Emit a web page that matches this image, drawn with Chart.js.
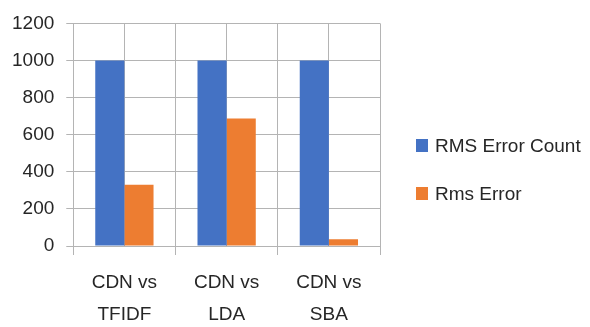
<!DOCTYPE html>
<html><head><meta charset="utf-8">
<script src="https://cdn.jsdelivr.net/npm/chart.js@4/dist/chart.umd.min.js"></script>
<style>html,body{margin:0;padding:0;background:#fff}#wrap{width:590px;height:327px}</style>
</head><body><div id="wrap"><canvas id="c"></canvas></div>
<script>
const categories = [["CDN vs","TFIDF"],["CDN vs","LDA"],["CDN vs","SBA"]];
const seriesNames = ["RMS Error Count","Rms Error"];
const rmsErrorCount = [1000,1000,1000];
const rmsError = [330,687,36];
const yTicks = [0,200,400,600,800,1000,1200];

const gridColor = "#b4b4b4";
const textColor = "#262626";
const fontFamily = "'Liberation Sans', Arial, sans-serif";
const font = {family:fontFamily, size:19};

const sideLegend = {
  id:'sideLegend',
  afterDraw(chart){
    const ctx = chart.ctx;
    const x0 = chart.chartArea.right + 36;
    const yMid = chart.height/2 + 6;
    const gap = 48;
    const n = chart.data.datasets.length;
    ctx.save();
    ctx.font = font.size + "px " + fontFamily;
    ctx.textBaseline = 'middle';
    ctx.textAlign = 'left';
    chart.data.datasets.forEach((ds,i)=>{
      const y = yMid + (i-(n-1)/2)*gap;
      ctx.fillStyle = ds.backgroundColor;
      ctx.fillRect(x0, y-6.5, 12, 13);
      ctx.fillStyle = textColor;
      ctx.fillText(ds.label, x0+19, y+1);
    });
    ctx.restore();
  }
};

new Chart(document.getElementById('c'), {
  type:'bar',
  data:{
    labels:categories,
    datasets:[
      {label:seriesNames[0], data:rmsErrorCount, backgroundColor:"#4472C4", categoryPercentage:0.57, barPercentage:1},
      {label:seriesNames[1], data:rmsError, backgroundColor:"#ED7D31", categoryPercentage:0.57, barPercentage:1}
    ]
  },
  plugins:[sideLegend],
  options:{
    responsive:true, maintainAspectRatio:false, animation:false,
    layout:{padding:{top:12,left:0,right:210,bottom:0}},
    plugins:{
      tooltip:{enabled:false},
      legend:{display:false}
    },
    scales:{
      x:{type:'category', offset:true,
        afterFit:(s)=>{ s.height = 81; },
        grid:{offset:true, color:gridColor, tickLength:9, lineWidth:1},
        border:{display:false},
        ticks:{color:textColor, font:{family:fontFamily, size:19, lineHeight:1.68}, padding:12, maxRotation:0}
      },
      x2:{type:'category', position:'bottom', offset:true,
        grid:{offset:false, color:gridColor, drawTicks:false},
        border:{display:false},
        ticks:{display:false}
      },
      y:{min:0, max:1200,
        afterBuildTicks:(s)=>{s.ticks = yTicks.map(v=>({value:v}));},
        grid:{color:gridColor, tickLength:7},
        border:{display:false},
        ticks:{color:textColor, font:font, padding:12, callback:(v)=>String(v)}
      }
    }
  }
});
</script></body></html>
